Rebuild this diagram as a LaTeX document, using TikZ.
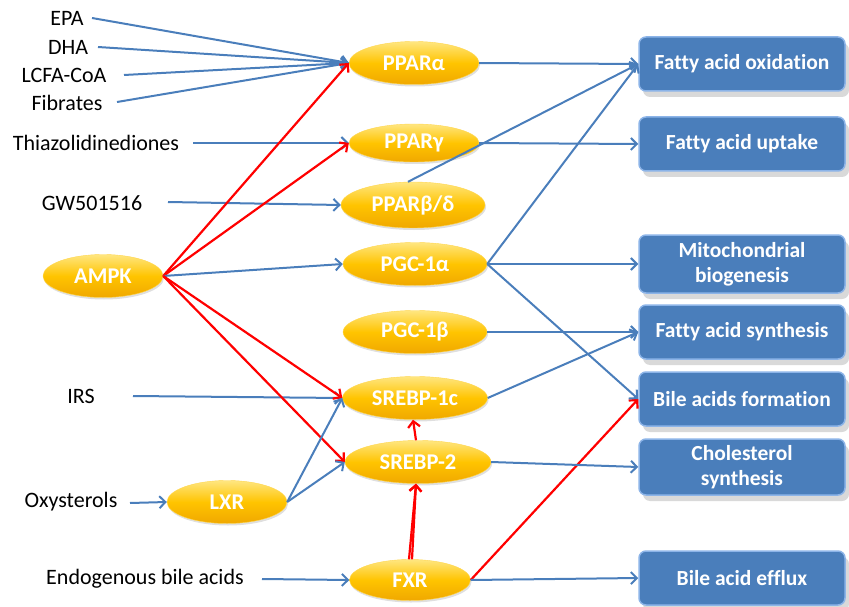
\documentclass[tikz,border=0pt]{standalone}
\usepackage{fontspec}
\setmainfont[Ligatures=NoCommon]{Carlito}
\usetikzlibrary{arrows.meta,shapes.geometric,shadows}
\definecolor{lineblue}{HTML}{4A7EBB}
\definecolor{boxblue}{HTML}{4A7EBB}
\definecolor{boxedge}{HTML}{8CB4E8}
\definecolor{goldtop}{HTML}{FFE680}
\definecolor{goldmid}{HTML}{FFC400}
\definecolor{goldbot}{HTML}{F0A800}
\definecolor{redline}{HTML}{FF0000}
\begin{document}
\begin{tikzpicture}[x=1pt,y=-1pt,
  lbl/.style={font=\fontsize{22}{24}\selectfont, inner sep=0pt, anchor=center},
  oval/.style={ellipse, minimum width=#1, minimum height=43pt, inner sep=0pt,
    top color=goldtop, bottom color=goldbot, middle color=goldmid, draw=goldmid!70!white,
    font=\fontsize{22.5}{24}\selectfont\bfseries, text=white,
    drop shadow={shadow xshift=1pt, shadow yshift=-2pt, opacity=0.25}},
  outbox/.style={rectangle, rounded corners=7pt, minimum width=206pt, minimum height=54pt,
    fill=boxblue, draw=boxedge, line width=1.5pt, text=white, align=center,
    font=\fontsize{21.5}{25}\selectfont\bfseries,
    drop shadow={shadow xshift=4pt, shadow yshift=-6pt, opacity=0.3}},
  ba/.style={draw=lineblue, line width=2pt, -{Straight Barb[length=6pt,width=12pt]}},
  ra/.style={draw=redline, line width=2.2pt, -{Straight Barb[length=6pt,width=12pt]}}
]
\useasboundingbox (0,0) rectangle (849,607);

% left labels
\node[lbl] (epa) at (67,18) {EPA};
\node[lbl] (dha) at (68,47) {DHA};
\node[lbl] (lcfa) at (64,75) {LCFA-CoA};
\node[lbl] (fib) at (67,103) {Fibrates};
\node[lbl] (tzd) at (96,143) {Thiazolidinediones};
\node[lbl] (gw) at (92,203) {GW501516};
\node[lbl] (irs) at (81,396) {IRS};
\node[lbl] (oxy) at (71,502) {Oxysterols};
\node[lbl] (eba) at (145,579) {Endogenous bile acids};

\coordinate (epaS) at (92,18);
\coordinate (dhaS) at (98,47);
\coordinate (lcfaS) at (124,75);
\coordinate (fibS) at (117,102);
\coordinate (tzdS) at (193,143);
\coordinate (gwS) at (168,202);
\coordinate (irsS) at (133,396);
\coordinate (oxyS) at (130,503);
\coordinate (ebaS) at (262,579);

% ovals
\node[oval=120pt] (ampk) at (103,276) {AMPK};
\node[oval=120pt] (lxr) at (227,502) {LXR};
\node[oval=130pt] (ppara) at (414,63) {PPARα};
\node[oval=130pt, minimum height=38pt] (pparg) at (414,143) {PPARγ};
\node[oval=144pt, minimum height=46pt] (pparb) at (413,205) {PPARβ/δ};
\node[oval=144pt] (pgca) at (415,264) {PGC-1α};
\node[oval=144pt] (pgcb) at (415,332) {PGC-1β};
\node[oval=145pt] (srebpa) at (415,398) {SREBP-1c};
\node[oval=146pt] (srebpb) at (418,462) {SREBP-2};
\node[oval=121pt, minimum height=41pt] (fxr) at (410,580) {FXR};

% boxes
\node[outbox] (fao) at (742,64) {Fatty acid oxidation};
\node[outbox] (fau) at (742,144) {Fatty acid uptake};
\node[outbox, minimum height=58pt] (mito) at (742,264) {Mitochondrial\\biogenesis};
\node[outbox] (fas) at (742,332) {Fatty acid synthesis};
\node[outbox] (baf) at (742,399) {Bile acids formation};
\node[outbox, minimum height=56pt] (chol) at (742,467) {Cholesterol\\synthesis};
\node[outbox] (bae) at (742,578) {Bile acid efflux};

% inputs
\draw[ba] (epaS) -- (ppara.west);
\draw[ba] (dhaS) -- (ppara.west);
\draw[ba] (lcfaS) -- (ppara.west);
\draw[ba] (fibS) -- (ppara.west);
\draw[ba] (tzdS) -- (pparg.west);
\draw[ba] (gwS) -- (pparb.west);
\draw[ba] (irsS) -- (srebpa.west);
\draw[ba] (oxyS) -- (lxr.west);
\draw[ba] (ebaS) -- (fxr.west);

% AMPK
\draw[ra] (ampk.east) -- (ppara.west);
\draw[ra] (ampk.east) -- (pparg.west);
\draw[ba] (ampk.east) -- (pgca.west);
\draw[ra] (ampk.east) -- (srebpa.west);
\draw[ra] (ampk.east) -- (srebpb.west);

% LXR
\draw[ba] (lxr.east) -- (srebpa.west);
\draw[ba] (lxr.east) -- (srebpb.west);

% FXR
\draw[ra] ([xshift=-1pt]fxr.north) -- ([xshift=-2pt]srebpb.south);
\draw[ra] ([xshift=2pt]fxr.north) -- ([xshift=-2pt]srebpb.south);
\draw[ra] ([xshift=-2pt]srebpb.north) -- ([xshift=-2pt]srebpa.south);
\draw[ra] (fxr.east) -- (baf.west);
\draw[ba] (fxr.east) -- (bae.west);

% outputs
\draw[ba] (ppara.east) -- (fao.west);
\draw[ba] (pparg.east) -- (fau.west);
\draw[ba] ([xshift=-5pt]pparb.north) -- (fao.west);
\draw[ba] (pgca.east) -- (fao.west);
\draw[ba] (pgca.east) -- (mito.west);
\draw[ba] (pgca.east) -- (baf.west);
\draw[ba] (pgcb.east) -- (fas.west);
\draw[ba] (srebpa.east) -- (fas.west);
\draw[ba] (srebpb.east) -- (chol.west);
\end{tikzpicture}
\end{document}
